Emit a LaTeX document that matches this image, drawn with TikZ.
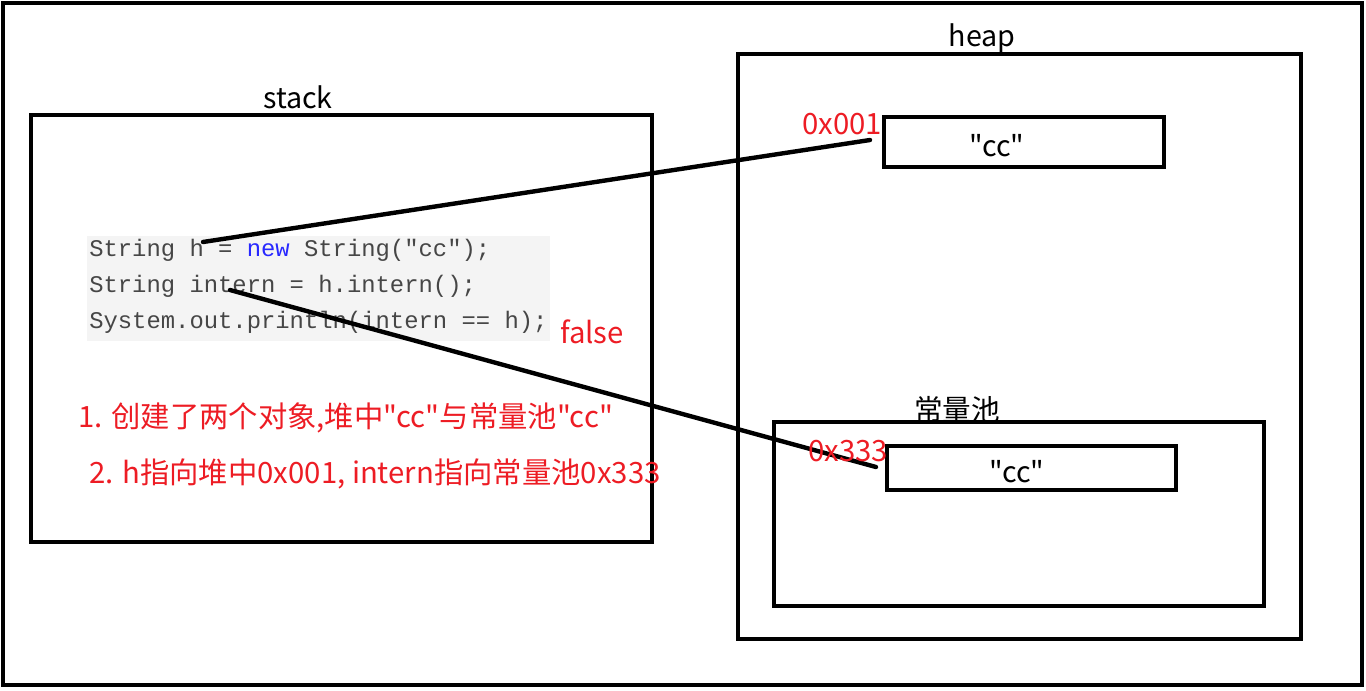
\documentclass[tikz,border=0pt]{standalone}
\usepackage{fontspec}
\setmainfont{Noto Sans CJK SC}[Ligatures=TeXOff]
\newfontfamily\codefont{Liberation Mono}
\usetikzlibrary{fit}
\definecolor{pred}{RGB}{237,28,36}
\definecolor{codebg}{RGB}{244,244,244}
\definecolor{codefg}{RGB}{70,70,70}
\definecolor{kw}{RGB}{40,40,255}
\tikzset{
  box/.style={draw=black, line width=3pt, inner sep=0pt},
  title/.style={font=\fontsize{21.5}{25}\selectfont, text=black, inner sep=0pt},
  addr/.style={font=\fontsize{22}{26}\selectfont, text=pred, inner sep=0pt},
  note/.style={font=\fontsize{22}{26}\selectfont, text=pred, inner sep=0pt, anchor=west},
  code/.style={font=\codefont\fontsize{17.9}{20}\selectfont, text=codefg, inner sep=0pt, anchor=west},
  link/.style={line width=3.3pt, draw=black, line cap=round}
}
\begin{document}
\begin{tikzpicture}[x=0.75pt,y=-0.75pt]
\useasboundingbox (0,0) rectangle (1366,690);
\node[draw=black, line width=3pt, inner sep=0pt, fit={(3,3) (1362,685)}] (outer) {};
% stack
\node[box, fit={(31,115) (652,542)}] (stack) {};
\node[title] (stacklbl) at (298,97) {stack};
\node[fill=codebg, inner sep=0pt, fit={(87,236) (550,341)}] (codebg) {};
\node[code] (c1) at (89,250) {String h = \textcolor{kw}{new} String("cc");};
\node[code] (c2) at (89,286) {String intern = h.intern();};
\node[code] (c3) at (89,322) {System.out.println(intern == h);};
\node[addr] (false) at (592,332) {false};
\node[note] (n1) at (78,418) {1. 创建了两个对象,堆中"cc"与常量池"cc"};
\node[note] (n2) at (89,474) {2. h指向堆中0x001, intern指向常量池0x333};
% heap
\node[box, fit={(738,54) (1301,639)}] (heap) {};
\node[title] (heaplbl) at (982,38) {heap};
\node[box, fit={(884,117) (1164,167)}] (hcc) {};
\node[title] at (997,146) (hcctxt) {"cc"};
\node[addr] (a1) at (842,124) {0x001};
% constant pool
\node[box, fit={(774,422) (1264,606)}] (pool) {};
\node[title] (poollbl) at (957,410) {常量池};
\node[box, fit={(887,446) (1176,490)}] (pcc) {};
\node[title] (pcctxt) at (1017,472) {"cc"};
% connectors
\coordinate (hvar) at (203,242);
\coordinate (hend) at (870,140);
\coordinate (ivar) at (230,290);
\coordinate (iend) at (876,467);
\draw[link] (hvar) -- (hend);
\draw[link] (ivar) -- (iend);
\node[addr] (a2) at (848,451) {0x333};
\end{tikzpicture}
\end{document}
